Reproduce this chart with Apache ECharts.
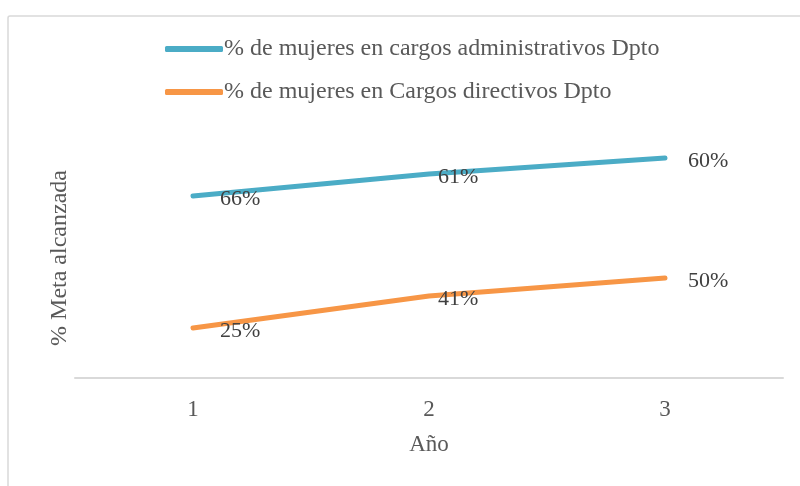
<!DOCTYPE html>
<html>
<head>
<meta charset="utf-8">
<script src="https://cdn.jsdelivr.net/npm/echarts@6/dist/echarts.min.js"></script>
<style>
  html, body { margin: 0; padding: 0; background: #fff; }
  #chart { width: 800px; height: 486px; }
</style>
</head>
<body>
<div id="chart"></div>
<script>
// years on the x axis
const years = ["1", "2", "3"];
// stacked line chart: directivos is the base, administrativos sits on top
const directivos = [25, 41, 50];
const administrativos = [66, 61, 60];
const nameAdmin = "% de mujeres en cargos administrativos Dpto";
const nameDir = "% de mujeres en Cargos directivos Dpto";

// label nudges to the right of each point (style only)
const labelDx = [22, 4, 18];

const serif = "Liberation Serif";

function withLabels(values) {
  return values.map((v, i) => ({
    value: v,
    label: { offset: [labelDx[i], 3] },
  }));
}

function lineSeries(name, values, color) {
  return {
    name: name,
    type: "line",
    stack: "total",
    data: withLabels(values),
    symbol: "circle",
    symbolSize: 0,
    showSymbol: true,
    lineStyle: { color: color, width: 5, cap: "round" },
    itemStyle: { color: color },
    label: {
      show: true,
      position: "right",
      formatter: "{c}%",
      fontFamily: serif,
      fontSize: 22,
      color: "#404040",
    },
  };
}

const chart = echarts.init(document.getElementById("chart"));
const option = {
  animation: false,
  graphic: [
    {
      type: "rect",
      shape: { x: 8, y: 16, width: 820, height: 520, r: 2 },
      style: { fill: "none", stroke: "#d9d9d9", lineWidth: 1.5 },
      silent: true,
    },
  ],
  legend: {
    orient: "vertical",
    left: 160,
    top: 32,
    itemWidth: 58,
    itemHeight: 6,
    itemGap: 19,
    icon: "roundRect",
    data: [nameAdmin, nameDir],
    textStyle: {
      fontFamily: serif,
      fontSize: 24,
      color: "#595959",
      padding: [0, 0, 0, -4],
    },
  },
  grid: {
    left: 75,
    right: 17,
    top: 138,
    bottom: 108,
  },
  xAxis: {
    type: "category",
    boundaryGap: true,
    data: years,
    name: "Año",
    nameLocation: "middle",
    nameGap: 55,
    nameTextStyle: { fontFamily: serif, fontSize: 23, color: "#595959" },
    axisLine: { lineStyle: { color: "#d9d9d9", width: 2 } },
    axisTick: { show: false },
    axisLabel: {
      margin: 20,
      fontFamily: serif,
      fontSize: 23,
      color: "#595959",
    },
  },
  yAxis: {
    type: "value",
    min: 0,
    max: 120,
    name: "% Meta alcanzada",
    nameLocation: "middle",
    nameGap: 3,
    nameTextStyle: { fontFamily: serif, fontSize: 24, color: "#595959" },
    axisLine: { show: false },
    axisTick: { show: false },
    axisLabel: { show: false },
    splitLine: { show: false },
  },
  series: [
    lineSeries(nameDir, directivos, "#f79646"),
    lineSeries(nameAdmin, administrativos, "#4bacc6"),
  ],
};
chart.setOption(option);
</script>
</body>
</html>
